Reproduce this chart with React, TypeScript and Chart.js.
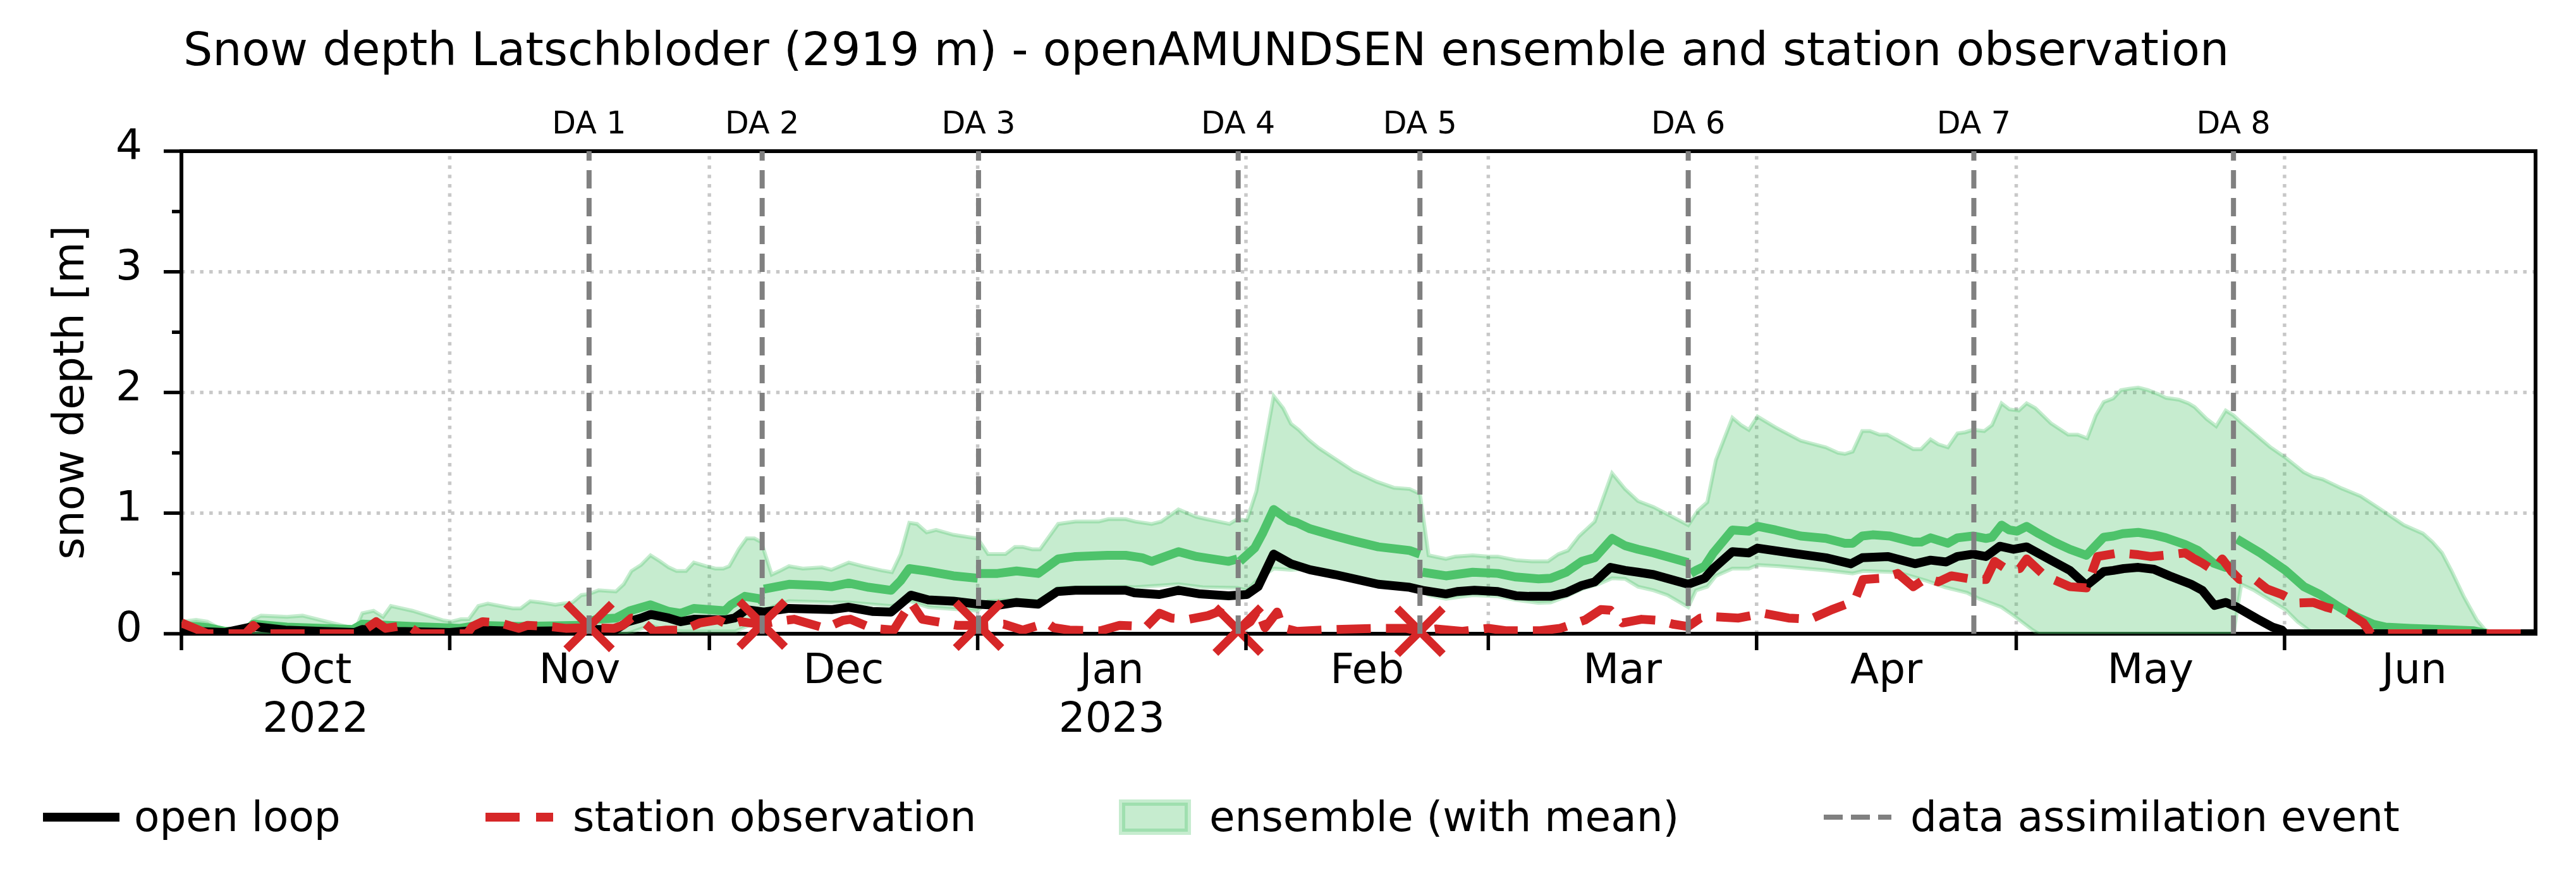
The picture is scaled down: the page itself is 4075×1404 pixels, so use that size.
import { useEffect, useRef } from 'react';
import { Chart, registerables } from 'chart.js';

Chart.register(...registerables);

const FONT = "'DejaVu Sans', 'Liberation Sans', sans-serif";
Chart.defaults.font.family = FONT;

const TITLE = 'Snow depth Latschbloder (2919 m) - openAMUNDSEN ensemble and station observation';
const Y_LABEL = 'snow depth [m]';

// x values are days counted from 1 Oct 2022
const X_MIN = 0;
const X_MAX = 272;
const MONTH_STARTS = [0, 31, 61, 92, 123, 151, 182, 212, 243];
const MONTH_LENGTHS = [31, 30, 31, 31, 28, 31, 30, 31, 30];
const MONTH_LABELS: (string | string[])[] = [['Oct', '2022'], 'Nov', 'Dec', ['Jan', '2023'], 'Feb', 'Mar', 'Apr', 'May', 'Jun'];
const Y_TICKS = [0, 1, 2, 3, 4];
const Y_MINOR = [0.5, 1.5, 2.5, 3.5];

// data assimilation events
const DA_DAYS = [47.1, 67.1, 92.1, 122.1, 143.1, 174.1, 207.1, 237.1];
const DA_LABELS = ['DA 1', 'DA 2', 'DA 3', 'DA 4', 'DA 5', 'DA 6', 'DA 7', 'DA 8'];
// station snow depth assimilated at the first five events
const DA_OBS = [0.06, 0.08, 0.07, 0.03, 0.02];

type P = [number, number | null];

const OPEN_LOOP: P[] = [
  [0, 0.03], [1.7, 0.02], [5, 0.01], [8.3, 0.06], [12, 0.03], [20, 0.01], [20.9, 0.035], [25, 0.02], [31, 0.01],
  [34.3, 0.03], [39, 0.02], [44, 0.025], [46, 0.035], [50.2, 0.035], [51.6, 0.1], [53.1, 0.13], [54.2, 0.16],
  [56.3, 0.13], [57.7, 0.1], [59.2, 0.12], [62.8, 0.115], [63.9, 0.13], [65.3, 0.2], [67.3, 0.18], [70.2, 0.21],
  [75.1, 0.2], [77.1, 0.22], [79.8, 0.185], [82, 0.18], [84.3, 0.32], [86.3, 0.28], [89.2, 0.27], [92.1, 0.245],
  [94.3, 0.235], [96.5, 0.26], [99, 0.245], [101.2, 0.35], [103.3, 0.36], [109.1, 0.36], [110.1, 0.34],
  [113, 0.325], [115.2, 0.36], [117.7, 0.33], [121, 0.315], [123.1, 0.325], [124.4, 0.39], [126.2, 0.66],
  [128.2, 0.58], [130.4, 0.53], [133.3, 0.49], [138.3, 0.41], [141.9, 0.385], [143.4, 0.36], [146.1, 0.33],
  [147.4, 0.35], [149.4, 0.36], [152.1, 0.35], [154.2, 0.315], [155.7, 0.31], [158.2, 0.31], [160, 0.34],
  [161.8, 0.4], [163.3, 0.43], [165.1, 0.55], [166.8, 0.525], [168.3, 0.51], [170.1, 0.49], [174.1, 0.41],
  [176, 0.46], [177, 0.54], [179.2, 0.68], [181.1, 0.67], [182.1, 0.71], [186.4, 0.665], [190, 0.63],
  [192.9, 0.58], [194.2, 0.63], [197.2, 0.64], [200.3, 0.58], [202.1, 0.61], [203.9, 0.595], [205.2, 0.64],
  [207, 0.66], [208.5, 0.64], [210.1, 0.725], [211.7, 0.7], [213.2, 0.72], [216, 0.61], [218.2, 0.525],
  [220.1, 0.4], [222.1, 0.515], [223.2, 0.525], [224.4, 0.54], [226.1, 0.55], [227.9, 0.535], [229.7, 0.48],
  [232.2, 0.41], [233.5, 0.36], [234.9, 0.235], [236.2, 0.26], [237.5, 0.22], [239.8, 0.125], [241.6, 0.055],
  [242.7, 0.03], [243.1, 0], [272, 0],
];

const STATION_OBS: P[] = [
  [0, 0.09], [1.7, 0.04], [3, 0], [7.4, 0], [8.3, 0.07], [9.2, 0], [20.5, 0], [22.5, 0.1], [23.6, 0.045],
  [25, 0.06], [26.5, 0.05], [27.5, 0], [33, 0], [33.6, 0.06], [34.8, 0.1], [36.8, 0.09], [39, 0.045], [40, 0.07],
  [42.5, 0.06], [44.4, 0.045], [47, 0.05], [50, 0.045], [51, 0.07], [52, 0.13], [53, 0.12], [54.6, 0.02],
  [56, 0.03], [58, 0.03], [59.9, 0.09], [62, 0.115], [63.3, 0.07], [64.6, 0.1], [65.7, 0.09], [67.1, 0.08],
  [68.6, 0.1], [70.8, 0.12], [74.4, 0.045], [76.4, 0.11], [77.3, 0.12], [79.8, 0.045], [82.3, 0.03],
  [84.3, 0.26], [85.6, 0.12], [88.1, 0.09], [89.6, 0.07], [92.1, 0.07], [95, 0.08], [97.2, 0.03], [100, 0.09],
  [100.8, 0.05], [102.6, 0.03], [106.2, 0.025], [108.4, 0.07], [111.5, 0.06], [113, 0.17], [114.4, 0.13],
  [116.4, 0.12], [118.6, 0.15], [119.9, 0.185], [121, 0.13], [122.1, 0.03], [123.5, 0.1], [124.4, 0.2],
  [125.2, 0.05], [126.6, 0.18], [127.2, 0.05], [128.9, 0.02], [133, 0.035], [138, 0.045], [141.5, 0.045],
  [143.1, 0.02], [145, 0.04], [148, 0.02], [151, 0.045], [153, 0.025], [157, 0.025], [159.3, 0.045],
  [162.2, 0.115], [164, 0.2], [165.1, 0.195], [166.5, 0.09], [168.7, 0.12], [170.8, 0.11], [172.3, 0.08],
  [174.1, 0.06], [175.5, 0.13], [177.3, 0.14], [179.9, 0.13], [182.8, 0.17], [185.7, 0.13], [188.2, 0.12],
  [190.7, 0.2], [193.3, 0.27], [194.3, 0.45], [196.5, 0.46], [198.3, 0.5], [200.1, 0.39], [201.6, 0.46],
  [203, 0.43], [204.5, 0.48], [207, 0.45], [208.5, 0.45], [209.5, 0.6], [211, 0.53], [212.4, 0.54],
  [213.2, 0.62], [215.3, 0.48], [218.2, 0.39], [220.1, 0.38], [221.4, 0.64], [223.9, 0.67], [226.1, 0.655],
  [227.5, 0.64], [229.7, 0.655], [231.5, 0.67], [232.6, 0.62], [233.5, 0.585], [234.8, 0.525], [235.8, 0.62],
  [236.9, 0.515], [237.8, 0.45], [239.5, 0.455], [241, 0.37], [242.7, 0.325], [244.5, 0.255], [246.3, 0.26],
  [247.8, 0.22], [250.3, 0.175], [252.1, 0.09], [253, 0], [272, 0],
];

// ensemble mean, restarted after each assimilation update (null = break)
const ENS_MEAN: P[] = [
  [0, 0.06], [1.7, 0.06], [3, 0.05], [5, 0.02], [7.4, 0.02], [8.3, 0.08], [12.2, 0.055], [19.8, 0.035],
  [20.9, 0.08], [26.7, 0.06], [32.2, 0.045], [34.3, 0.07], [39, 0.06], [46, 0.07], [47, 0.07], [47.1, null],
  [47.2, 0.1], [48, 0.12], [50.2, 0.13], [51.8, 0.19], [54.2, 0.24], [56.3, 0.185], [57.7, 0.17], [59.2, 0.21],
  [62.8, 0.19], [63.5, 0.24], [65.1, 0.31], [66.8, 0.29], [67.1, 0.27], [67.2, null],
  [67.3, 0.37], [70.2, 0.41], [73.7, 0.4], [75.1, 0.39], [77.1, 0.42], [79.4, 0.385], [82, 0.36], [83.1, 0.44],
  [84.1, 0.54], [86.1, 0.52], [89.2, 0.48], [92, 0.46], [92.1, null],
  [92.3, 0.5], [94.3, 0.5], [96.5, 0.52], [99, 0.5], [101.3, 0.62], [103.3, 0.64], [107, 0.65], [109.1, 0.65],
  [111, 0.63], [112.1, 0.6], [115.2, 0.68], [117.3, 0.64], [121, 0.6], [122, 0.62], [122.1, null],
  [122.3, 0.6], [124, 0.71], [124.9, 0.83], [126.2, 1.03], [128, 0.94], [128.9, 0.92], [130.4, 0.87],
  [133.3, 0.81], [135.4, 0.77], [138.3, 0.72], [141.9, 0.69], [143.1, 0.66], [143.2, null],
  [143.4, 0.51], [146.1, 0.48], [149.2, 0.51], [152.1, 0.5], [154.2, 0.47], [156.8, 0.455], [158.2, 0.46],
  [160, 0.51], [161.8, 0.6], [163.3, 0.63], [165.3, 0.79], [166.8, 0.73], [168.3, 0.7], [170.1, 0.67],
  [174.1, 0.59], [174.2, null],
  [174.4, 0.5], [175, 0.525], [176, 0.56], [177, 0.67], [179.2, 0.86], [181.1, 0.85], [182.1, 0.89],
  [184.2, 0.86], [187.1, 0.81], [190, 0.79], [192.2, 0.75], [193.1, 0.75], [194.2, 0.81], [195.4, 0.82],
  [197.4, 0.81], [200.1, 0.76], [201, 0.76], [202.1, 0.795], [204.1, 0.75], [205.2, 0.795], [207, 0.81],
  [208.5, 0.79], [209.2, 0.8], [210.3, 0.9], [211.2, 0.86], [212.1, 0.85], [213.2, 0.89], [214.6, 0.83],
  [216.4, 0.76], [218.2, 0.7], [220.1, 0.65], [222.1, 0.8], [223.2, 0.81], [224.3, 0.83], [226.1, 0.84],
  [227.9, 0.82], [229.3, 0.795], [231.5, 0.74], [233, 0.69], [234.8, 0.585], [236.2, 0.55], [237.1, 0.57],
  [237.2, null],
  [237.5, 0.785], [240.2, 0.67], [243.1, 0.525], [245.25, 0.39], [247.1, 0.325], [248.9, 0.24], [251, 0.15],
  [253.2, 0.08], [254.7, 0.055], [257.5, 0.045], [261.2, 0.035], [264.8, 0.025], [266.6, 0], [272, 0],
];

const ENS_UPPER: P[] = [
  [0, 0.1], [1.7, 0.115], [3, 0.1], [5, 0.02], [5.5, 0], [7.4, 0], [8.3, 0.12], [9.2, 0.15], [12.2, 0.14],
  [14, 0.15], [19.6, 0.05], [20, 0.02], [20.9, 0.17], [22.2, 0.19], [23.3, 0.14], [24.2, 0.23], [26.7, 0.19],
  [30.3, 0.11], [31.2, 0.1], [32.3, 0.12], [33.2, 0.12], [34.3, 0.23], [35.4, 0.25], [38.3, 0.21], [39.2, 0.21],
  [40.3, 0.27], [41.5, 0.26], [43.2, 0.24], [44.1, 0.25], [45.2, 0.26], [46.2, 0.32], [47.1, 0.33], [48.2, 0.36],
  [50.2, 0.35], [51.1, 0.41], [52, 0.52], [53.1, 0.57], [54.2, 0.65], [55.3, 0.6], [56.3, 0.55], [57.2, 0.52],
  [58.3, 0.52], [59.2, 0.59], [60.6, 0.56], [61.7, 0.54], [62.6, 0.54], [63.3, 0.56], [64.4, 0.7], [65.3, 0.79],
  [66.2, 0.79], [67, 0.76], [68.2, 0.49], [69.1, 0.52], [70.2, 0.56], [71.8, 0.54], [74, 0.55], [75.1, 0.53],
  [77.1, 0.59], [78.7, 0.56], [80.9, 0.525], [82.1, 0.51], [83.1, 0.66], [84.1, 0.92], [85, 0.91], [86.1, 0.84],
  [87.2, 0.86], [89.2, 0.82], [91, 0.8], [92, 0.79], [93.2, 0.66], [94.1, 0.66], [95.2, 0.66], [96.3, 0.72],
  [97.2, 0.72], [98.3, 0.7], [99.2, 0.7], [101.3, 0.91], [103.3, 0.93], [106, 0.93], [107.1, 0.95], [109.1, 0.95],
  [110.2, 0.93], [112.1, 0.91], [113.2, 0.93], [115.2, 1.03], [117.2, 0.97], [118.4, 0.95], [121.1, 0.91],
  [122, 0.95], [123.1, 0.94], [124.2, 1.18], [126.2, 1.97], [127.3, 1.87], [128.2, 1.74], [129.1, 1.69],
  [130.2, 1.61], [131.4, 1.54], [133.3, 1.45], [135.4, 1.35], [138.1, 1.26], [140.1, 1.21], [141.9, 1.2],
  [143.1, 1.16], [144.1, 0.65], [146.1, 0.62], [147.2, 0.64], [149.2, 0.65], [151, 0.64], [152.1, 0.64],
  [154.2, 0.61], [156, 0.6], [157.9, 0.6], [159.1, 0.66], [160.2, 0.69], [161.5, 0.81], [163.3, 0.93],
  [165.3, 1.33], [166.8, 1.2], [168.3, 1.1], [170.1, 1.05], [171.7, 0.99], [174.1, 0.9], [175.2, 1.02],
  [176.3, 1.09], [177.3, 1.44], [179.2, 1.79], [180.2, 1.73], [181.1, 1.69], [182.1, 1.8], [184.2, 1.71],
  [187.1, 1.6], [190, 1.545], [191.4, 1.5], [192.2, 1.49], [193.1, 1.51], [194.2, 1.68], [195.1, 1.68],
  [196.2, 1.65], [197.1, 1.65], [198.1, 1.61], [200.1, 1.53], [201, 1.53], [202.1, 1.61], [203, 1.57],
  [204.1, 1.545], [205.2, 1.66], [206.1, 1.67], [207, 1.69], [208.3, 1.68], [209.2, 1.73], [210.3, 1.91],
  [211.2, 1.86], [212.3, 1.85], [213.2, 1.91], [214.2, 1.87], [216, 1.745], [218, 1.65], [219.1, 1.65],
  [220.2, 1.62], [221.2, 1.81], [222.1, 1.92], [223.2, 1.95], [224.1, 2.02], [225, 2.03], [226.1, 2.04],
  [227.2, 2.02], [228.6, 1.98], [229.3, 1.955], [230.8, 1.94], [231.9, 1.91], [232.6, 1.88], [234, 1.78],
  [235.1, 1.72], [236.2, 1.85], [237.1, 1.81], [238, 1.75], [239.5, 1.66], [241.3, 1.55], [243.1, 1.46],
  [245.2, 1.34], [246.3, 1.3], [247.4, 1.28], [249.6, 1.205], [251.8, 1.14], [253.9, 1.04], [256.8, 0.9],
  [259, 0.83], [260.1, 0.76], [261.2, 0.67], [262.3, 0.52], [263.7, 0.31], [265.2, 0.115], [266.2, 0.03],
  [266.8, 0], [272, 0],
];

const ENS_LOWER: P[] = [
  [0, 0], [51.5, 0], [54.2, 0.07], [56, 0.03], [58, 0.02], [64, 0.02], [66.5, 0.1], [67.1, 0.12], [68.2, 0.22],
  [70.2, 0.27], [75, 0.26], [77.1, 0.26], [82, 0.23], [84.1, 0.27], [86.3, 0.22], [92, 0.19], [93.2, 0.27],
  [96.5, 0.28], [99, 0.27], [101.3, 0.38], [109, 0.39], [110.1, 0.385], [115.2, 0.41], [118, 0.385], [122, 0.38],
  [123.1, 0.36], [124.4, 0.45], [126.2, 0.54], [128.2, 0.53], [130.4, 0.54], [133.3, 0.5], [138.3, 0.42],
  [141.9, 0.395], [143.1, 0.37], [144.1, 0.32], [146.1, 0.29], [149.2, 0.32], [152.1, 0.31], [154.2, 0.28],
  [156.8, 0.255], [158.2, 0.26], [160, 0.31], [161.8, 0.37], [163.7, 0.41], [165.3, 0.46], [166.8, 0.455],
  [168.3, 0.39], [170.1, 0.36], [171.7, 0.32], [174.1, 0.22], [175, 0.36], [176.3, 0.39], [177.3, 0.48],
  [179.2, 0.54], [181.1, 0.54], [182.1, 0.57], [184.6, 0.56], [190, 0.525], [193.1, 0.5], [194.3, 0.52],
  [198.3, 0.51], [201.6, 0.44], [203.8, 0.385], [206.3, 0.34], [207.7, 0.29], [210.3, 0.22], [211.7, 0.15],
  [213.9, 0.03], [214.6, 0], [237.1, 0], [238, 0.41], [239.5, 0.36], [241.3, 0.28], [243.1, 0.2], [244.5, 0.1],
  [245.8, 0.03], [246.5, 0], [272, 0],
];

const BLACK = '#000000';
const RED = '#d62728';
const GREEN = '#4ec36b';
const BAND = 'rgba(78, 195, 107, 0.32)';
const DA_GREY = '#808080';
const GRID = '#c8c8c8';

const LINE_W = 14;

const toXY = (arr: P[]) => arr.map(([x, y]) => ({ x, y }));

const decorations = {
  id: 'decorations',
  beforeDatasetsDraw(chart: any) {
    const { ctx, chartArea: a } = chart;
    const xs = chart.scales.x;
    const ys = chart.scales.y;
    ctx.save();
    // dotted grid
    ctx.strokeStyle = GRID;
    ctx.lineWidth = 5.5;
    ctx.setLineDash([5.5, 9.2]);
    ctx.beginPath();
    for (const v of Y_TICKS) {
      if (v === 0 || v === 4) continue;
      const py = ys.getPixelForValue(v);
      ctx.moveTo(a.left, py);
      ctx.lineTo(a.right, py);
    }
    for (const d of MONTH_STARTS) {
      if (d <= X_MIN) continue;
      const px = xs.getPixelForValue(d);
      ctx.moveTo(px, a.bottom);
      ctx.lineTo(px, a.top);
    }
    ctx.stroke();
    // axes frame
    ctx.setLineDash([]);
    ctx.strokeStyle = BLACK;
    ctx.lineWidth = 6;
    ctx.strokeRect(a.left, a.top, a.right - a.left, a.bottom - a.top);
    ctx.restore();
  },
  afterDatasetsDraw(chart: any) {
    const { ctx, chartArea: a } = chart;
    const xs = chart.scales.x;
    ctx.save();
    ctx.strokeStyle = DA_GREY;
    ctx.lineWidth = 8;
    ctx.setLineDash([29, 15]);
    for (const d of DA_DAYS) {
      const px = xs.getPixelForValue(d);
      ctx.beginPath();
      ctx.moveTo(px, a.bottom);
      ctx.lineTo(px, a.top);
      ctx.stroke();
    }
    ctx.restore();
  },
  afterDraw(chart: any) {
    const { ctx, chartArea: a } = chart;
    const xs = chart.scales.x;
    const ys = chart.scales.y;
    ctx.save();
    // tick marks
    ctx.strokeStyle = BLACK;
    ctx.lineWidth = 5.5;
    ctx.setLineDash([]);
    ctx.beginPath();
    for (const d of MONTH_STARTS) {
      if (d > X_MAX) continue;
      const px = xs.getPixelForValue(d);
      ctx.moveTo(px, a.bottom);
      ctx.lineTo(px, a.bottom + 26);
    }
    for (const v of Y_TICKS) {
      const py = ys.getPixelForValue(v);
      ctx.moveTo(a.left, py);
      ctx.lineTo(a.left - 28, py);
    }
    for (const v of Y_MINOR) {
      const py = ys.getPixelForValue(v);
      ctx.moveTo(a.left, py);
      ctx.lineTo(a.left - 15, py);
    }
    ctx.stroke();

    ctx.fillStyle = BLACK;
    // event labels above the frame
    ctx.font = `49px ${FONT}`;
    ctx.textAlign = 'center';
    ctx.textBaseline = 'alphabetic';
    DA_DAYS.forEach((d, i) => {
      ctx.fillText(DA_LABELS[i], xs.getPixelForValue(d), 211);
    });

    // title
    ctx.font = `73px ${FONT}`;
    ctx.textAlign = 'left';
    ctx.fillText(TITLE, 290, 103);

    // y axis label
    ctx.save();
    ctx.font = `67px ${FONT}`;
    ctx.translate(132, (a.top + a.bottom) / 2);
    ctx.rotate(-Math.PI / 2);
    ctx.textAlign = 'center';
    ctx.fillText(Y_LABEL, 0, 0);
    ctx.restore();

    // legend
    const ly = 1292;
    ctx.lineCap = 'butt';
    ctx.strokeStyle = BLACK;
    ctx.lineWidth = LINE_W;
    ctx.beginPath();
    ctx.moveTo(68, ly);
    ctx.lineTo(189, ly);
    ctx.stroke();

    ctx.strokeStyle = RED;
    ctx.setLineDash([54, 26]);
    ctx.beginPath();
    ctx.moveTo(768, ly);
    ctx.lineTo(875, ly);
    ctx.stroke();
    ctx.setLineDash([]);

    ctx.fillStyle = BAND;
    ctx.fillRect(1775, 1269, 104, 46);
    ctx.strokeStyle = BAND;
    ctx.lineWidth = 10;
    ctx.strokeRect(1775, 1269, 104, 46);

    ctx.strokeStyle = DA_GREY;
    ctx.lineWidth = 8;
    ctx.setLineDash([30, 13]);
    ctx.beginPath();
    ctx.moveTo(2885, ly);
    ctx.lineTo(2992, ly);
    ctx.stroke();
    ctx.setLineDash([]);

    ctx.fillStyle = BLACK;
    ctx.font = `66px ${FONT}`;
    ctx.textAlign = 'left';
    ctx.fillText('open loop', 212, 1314);
    ctx.fillText('station observation', 906, 1314);
    ctx.fillText('ensemble (with mean)', 1913, 1314);
    ctx.fillText('data assimilation event', 3022, 1314);
    ctx.restore();
  },
};

export default function App() {
  const ref = useRef<HTMLCanvasElement | null>(null);

  useEffect(() => {
    if (!ref.current) return;
    const monthMids = MONTH_STARTS.map((s, i) => s + MONTH_LENGTHS[i] / 2);
    const chart = new Chart(ref.current, {
      type: 'line',
      data: {
        datasets: [
          {
            label: 'assimilated observation',
            data: DA_DAYS.slice(0, DA_OBS.length).map((d, i) => ({ x: d, y: DA_OBS[i] })),
            showLine: false,
            pointStyle: 'crossRot',
            pointRadius: 51,
            pointBorderWidth: 13,
            pointBorderColor: RED,
            pointBackgroundColor: RED,
            clip: false as any,
            order: 0,
          },
          {
            label: 'station observation',
            data: toXY(STATION_OBS),
            borderColor: RED,
            borderWidth: LINE_W,
            borderDash: [54, 24],
            borderJoinStyle: 'round',
            pointRadius: 0,
            clip: 0,
            order: 1,
          },
          {
            label: 'open loop',
            data: toXY(OPEN_LOOP),
            borderColor: BLACK,
            borderWidth: LINE_W,
            borderJoinStyle: 'round',
            pointRadius: 0,
            clip: 0,
            order: 2,
          },
          {
            label: 'ensemble mean',
            data: toXY(ENS_MEAN),
            borderColor: GREEN,
            borderWidth: LINE_W,
            borderJoinStyle: 'round',
            pointRadius: 0,
            spanGaps: false,
            clip: 0,
            order: 3,
          },
          {
            label: 'ensemble max',
            data: toXY(ENS_UPPER),
            borderColor: BAND,
            borderWidth: 6,
            backgroundColor: BAND,
            fill: 5,
            pointRadius: 0,
            clip: 0,
            order: 4,
          },
          {
            label: 'ensemble min',
            data: toXY(ENS_LOWER),
            borderColor: BAND,
            borderWidth: 6,
            pointRadius: 0,
            fill: false,
            clip: 0,
            order: 5,
          },
        ],
      },
      options: {
        responsive: false,
        maintainAspectRatio: false,
        animation: false,
        devicePixelRatio: 1,
        events: [],
        layout: { padding: { left: 0, top: 239, right: 50, bottom: 0 } },
        elements: { line: { tension: 0 }, point: { radius: 0 } },
        plugins: {
          legend: { display: false },
          title: { display: false },
          tooltip: { enabled: false },
        },
        scales: {
          x: {
            type: 'linear',
            min: X_MIN,
            max: X_MAX,
            afterBuildTicks: (s: any) => {
              s.ticks = monthMids.map((v) => ({ value: v }));
            },
            afterFit: (s: any) => {
              s.height = 402;
            },
            ticks: {
              autoSkip: false,
              maxRotation: 0,
              minRotation: 0,
              color: BLACK,
              padding: 22,
              font: { family: FONT, size: 66, lineHeight: 77 / 66 },
              callback: (_v: any, i: number) => MONTH_LABELS[i],
            },
            grid: { display: false, drawTicks: false },
            border: { display: false },
          },
          y: {
            type: 'linear',
            min: 0,
            max: 4,
            afterBuildTicks: (s: any) => {
              s.ticks = Y_TICKS.map((v) => ({ value: v }));
            },
            afterFit: (s: any) => {
              s.width = 287;
            },
            ticks: {
              color: BLACK,
              padding: 62,
              labelOffset: -5,
              font: { family: FONT, size: 66 },
              callback: (v: any) => String(v),
            },
            grid: { display: false, drawTicks: false },
            border: { display: false },
          },
        },
      },
      plugins: [decorations],
    });
    return () => chart.destroy();
  }, []);

  return (
    <div style={{ position: 'absolute', left: 0, top: 0, width: 4075, height: 1404, background: '#fff' }}>
      <canvas ref={ref} width={4075} height={1404} style={{ display: 'block', width: 4075, height: 1404 }} />
    </div>
  );
}
